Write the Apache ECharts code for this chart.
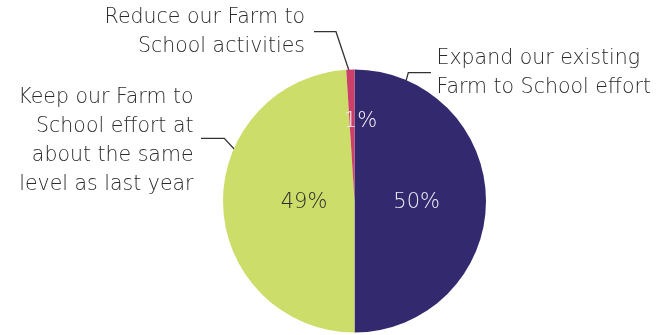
<!DOCTYPE html>
<html>
<head>
<meta charset="utf-8">
<script src="https://cdn.jsdelivr.net/npm/echarts@6/dist/echarts.min.js"></script>
<style>
  html, body { margin: 0; padding: 0; background: #ffffff; }
  #chart { width: 668px; height: 335px; }
</style>
</head>
<body>
<div id="chart"></div>
<script>
// Survey answers, clockwise from 12 o'clock
const categories = [
  'Expand our existing\nFarm to School effort',
  'Keep our Farm to\nSchool effort at\nabout the same\nlevel as last year',
  'Reduce our Farm to\nSchool activities'
];
const shares = [50, 49, 1];
const sliceColors = ['#33296f', '#cddd6a', '#cc3f6a'];
const shareLabelColors = ['#eeecf5', '#2e2e2e', '#f8eef1'];

// Pie geometry
const CX = 354.5, CY = 201, R = 131.5;
const FONT = '"DejaVu Sans"';

// Callout placement, as offsets from the pie centre:
// leader line (start inside slice, elbow, end) and text anchor
const callouts = [
  { line: [[49.5, -112.7], [53.8, -128.3], [76.5, -128.3]], text: [82, -128], align: 'left' },
  { line: [[-115.5, -46.7], [-130.2, -62.7], [-153.5, -62.7]], text: [-161, -60], align: 'right' },
  { line: [[-1.8, -119.3], [-18.5, -169.3], [-40.5, -169.3]], text: [-49.5, -169], align: 'right' }
];
// Percentage text offsets from the pie centre
const shareLabelOffsets = [[62.2, 2], [-50.5, 2], [6, -79]];

const chart = echarts.init(document.getElementById('chart'), null, { renderer: 'canvas' });

const pieBase = {
  type: 'pie',
  center: [CX, CY],
  radius: R,
  startAngle: 90,
  clockwise: true,
  avoidLabelOverlap: false,
  animation: false,
  silent: true
};

chart.setOption({
  backgroundColor: '#ffffff',
  series: [
    Object.assign({}, pieBase, {
      name: 'shares',
      data: categories.map((name, i) => ({
        name: name,
        value: shares[i],
        itemStyle: { color: sliceColors[i] },
        label: { color: shareLabelColors[i] }
      })),
      itemStyle: { borderWidth: 0 },
      label: {
        show: true,
        position: 'inside',
        formatter: p => p.value + '%',
        fontFamily: FONT,
        fontWeight: 200,
        fontSize: 21
      },
      labelLine: { show: false },
      labelLayout: p => {
        const o = shareLabelOffsets[p.dataIndex];
        return { x: CX + o[0], y: CY + o[1], align: 'center', verticalAlign: 'middle' };
      }
    }),
    Object.assign({}, pieBase, {
      name: 'callouts',
      data: categories.map((name, i) => ({ name: name, value: shares[i] })),
      itemStyle: { color: 'rgba(0,0,0,0)', borderWidth: 0 },
      label: {
        show: true,
        position: 'outside',
        formatter: p => p.name,
        fontFamily: FONT,
        fontWeight: 200,
        fontSize: 20.5,
        lineHeight: 29,
        color: '#2a2a2a'
      },
      labelLine: {
        show: true,
        lineStyle: { color: '#333333', width: 1.3 }
      },
      labelLayout: p => {
        const c = callouts[p.dataIndex];
        return {
          x: CX + c.text[0],
          y: CY + c.text[1],
          align: c.align,
          verticalAlign: 'middle',
          labelLinePoints: c.line.map(pt => [CX + pt[0], CY + pt[1]])
        };
      }
    })
  ]
});
</script>
</body>
</html>
